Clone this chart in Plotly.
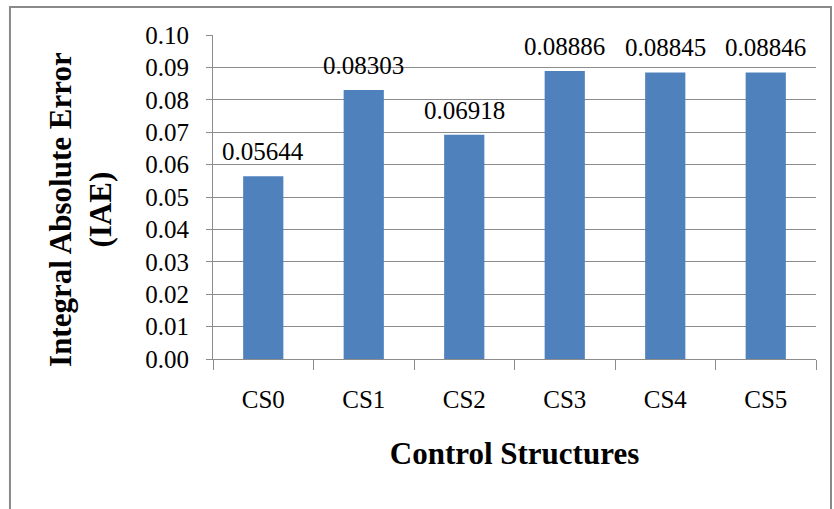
import plotly.graph_objects as go

# Integral absolute error for each control structure
structures = ["CS0", "CS1", "CS2", "CS3", "CS4", "CS5"]
iae = [0.05644, 0.08303, 0.06918, 0.08886, 0.08845, 0.08846]
y_ticks = [0.00, 0.01, 0.02, 0.03, 0.04, 0.05, 0.06, 0.07, 0.08, 0.09, 0.10]

serif = "Liberation Serif, Times New Roman, serif"
bar_color = "#4F81BD"
grid_color = "#8C8C8C"

fig = go.Figure(
    go.Bar(
        x=structures,
        y=iae,
        marker=dict(color=bar_color, line=dict(width=0)),
        width=0.4,
        hoverinfo="x+y",
    )
)

# value labels above every bar
for s, v in zip(structures, iae):
    fig.add_annotation(
        x=s, y=v, text=f"{v:.5f}", showarrow=False,
        yanchor="bottom", yshift=9,
        font=dict(family=serif, size=25, color="#000000"),
    )

# vertical axis title, two lines
fig.add_annotation(
    xref="paper", yref="paper", x=-0.219, y=0.463,
    xanchor="center", yanchor="middle", textangle=-90, showarrow=False,
    text="<b>Integral Absolute Error<br>(IAE)</b>",
    font=dict(family=serif, size=31, color="#000000"),
)

# outer frame around the whole chart
fig.add_shape(
    type="rect", xref="paper", yref="paper",
    x0=-0.3367, x1=1.0249, y0=-0.55, y1=1.0864,
    line=dict(color="#8A8A8A", width=2), fillcolor="rgba(0,0,0,0)",
    layer="below",
)

fig.update_layout(
    width=834, height=509,
    margin=dict(l=213, r=18, t=35, b=150),
    paper_bgcolor="#FFFFFF",
    plot_bgcolor="#FFFFFF",
    showlegend=False,
    font=dict(family=serif, color="#000000"),
    xaxis=dict(
        type="category",
        showline=True, linecolor=grid_color, linewidth=1,
        ticks="outside", ticklen=10, tickcolor=grid_color,
        tickson="boundaries",
        tickfont=dict(family=serif, size=25, color="#000000"),
        ticklabelstandoff=18,
        showgrid=False,
        title=dict(text="<b>Control Structures</b>",
                   font=dict(family=serif, size=31, color="#000000"),
                   standoff=30),
        automargin=False,
    ),
    yaxis=dict(
        range=[0, 0.1],
        tickvals=y_ticks,
        tickformat=".2f",
        showline=True, linecolor=grid_color, linewidth=1,
        ticks="outside", ticklen=6, tickcolor=grid_color,
        showgrid=True, gridcolor=grid_color, gridwidth=1,
        zeroline=False,
        tickfont=dict(family=serif, size=25, color="#000000"),
        ticklabelstandoff=12,
        automargin=False,
    ),
)

fig.write_html("out.html")
